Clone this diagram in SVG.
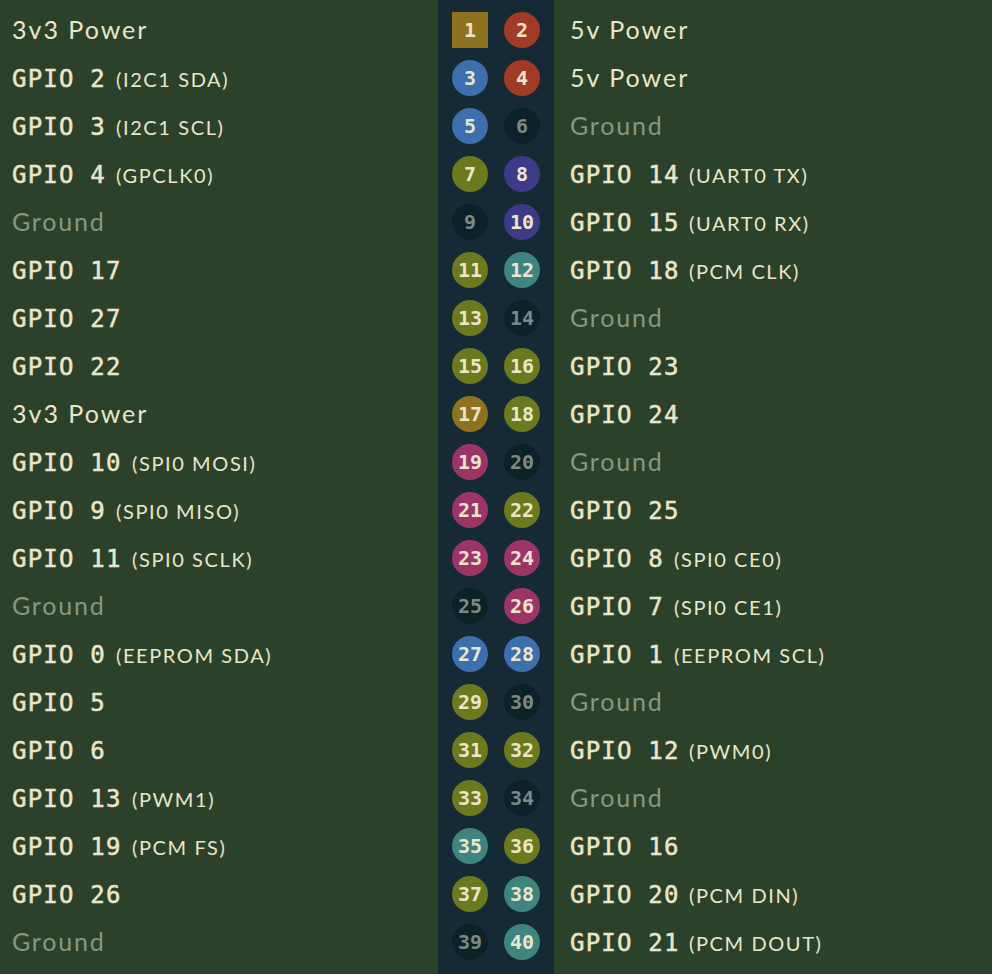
<svg xmlns="http://www.w3.org/2000/svg" width="992" height="974" viewBox="0 0 992 974">
<style>
.bg{fill:#2c412c}
.strip{fill:#152a35}
.n{font-family:"DejaVu Sans Mono",monospace;font-weight:bold;font-size:20px;fill:#ebe5c9;text-anchor:middle}
.gn{fill:#7b8a86}
.pw3{fill:#8e7220}.pw5{fill:#a23a28}.blu{fill:#3b6fae}.olv{fill:#6b7a1e}.pur{fill:#3d3a88}.tea{fill:#3f857f}.mag{fill:#9b3568}.gnd{fill:#0d2129}
.s{font-family:Lato,"Open Sans",sans-serif;font-size:25px;fill:#ebe5c9;letter-spacing:2px}
.g{font-family:Lato,"Open Sans",sans-serif;font-size:25px;fill:#8a977f;letter-spacing:1.8px}
.m{font-family:"DejaVu Sans Mono",monospace;font-size:24px;fill:#ebe5c9;stroke:#ebe5c9;stroke-width:0.5px;letter-spacing:1.2px}
.sub{font-family:Lato,"Open Sans",sans-serif;font-size:20px;fill:#ebe5c9;letter-spacing:1.6px}
</style>
<rect class="bg" x="0" y="0" width="992" height="974"/>
<rect class="strip" x="438" y="0" width="116" height="974"/>

<g id="pin1"><rect class="pw3" x="452" y="12" width="36" height="36"/><text class="n" x="470" y="37">1</text><text class="s" x="12" y="39">3v3 Power</text></g>
<g id="pin2"><circle class="pw5" cx="522" cy="30" r="18"/><text class="n" x="522" y="37">2</text><text class="s" x="570" y="39">5v Power</text></g>

<g id="pin3"><circle class="blu" cx="470" cy="78" r="18"/><text class="n" x="470" y="85">3</text><text class="m" x="12" y="87">GPIO 2</text><text class="sub" x="116" y="87">(I2C1 SDA)</text></g>
<g id="pin4"><circle class="pw5" cx="522" cy="78" r="18"/><text class="n" x="522" y="85">4</text><text class="s" x="570" y="87">5v Power</text></g>

<g id="pin5"><circle class="blu" cx="470" cy="126" r="18"/><text class="n" x="470" y="133">5</text><text class="m" x="12" y="135">GPIO 3</text><text class="sub" x="116" y="135">(I2C1 SCL)</text></g>
<g id="pin6"><circle class="gnd" cx="522" cy="126" r="18"/><text class="n gn" x="522" y="133">6</text><text class="g" x="570" y="135">Ground</text></g>

<g id="pin7"><circle class="olv" cx="470" cy="174" r="18"/><text class="n" x="470" y="181">7</text><text class="m" x="12" y="183">GPIO 4</text><text class="sub" x="116" y="183">(GPCLK0)</text></g>
<g id="pin8"><circle class="pur" cx="522" cy="174" r="18"/><text class="n" x="522" y="181">8</text><text class="m" x="570" y="183">GPIO 14</text><text class="sub" x="689" y="183">(UART0 TX)</text></g>

<g id="pin9"><circle class="gnd" cx="470" cy="222" r="18"/><text class="n gn" x="470" y="229">9</text><text class="g" x="12" y="231">Ground</text></g>
<g id="pin10"><circle class="pur" cx="522" cy="222" r="18"/><text class="n" x="522" y="229">10</text><text class="m" x="570" y="231">GPIO 15</text><text class="sub" x="689" y="231">(UART0 RX)</text></g>

<g id="pin11"><circle class="olv" cx="470" cy="270" r="18"/><text class="n" x="470" y="277">11</text><text class="m" x="12" y="279">GPIO 17</text></g>
<g id="pin12"><circle class="tea" cx="522" cy="270" r="18"/><text class="n" x="522" y="277">12</text><text class="m" x="570" y="279">GPIO 18</text><text class="sub" x="689" y="279">(PCM CLK)</text></g>

<g id="pin13"><circle class="olv" cx="470" cy="318" r="18"/><text class="n" x="470" y="325">13</text><text class="m" x="12" y="327">GPIO 27</text></g>
<g id="pin14"><circle class="gnd" cx="522" cy="318" r="18"/><text class="n gn" x="522" y="325">14</text><text class="g" x="570" y="327">Ground</text></g>

<g id="pin15"><circle class="olv" cx="470" cy="366" r="18"/><text class="n" x="470" y="373">15</text><text class="m" x="12" y="375">GPIO 22</text></g>
<g id="pin16"><circle class="olv" cx="522" cy="366" r="18"/><text class="n" x="522" y="373">16</text><text class="m" x="570" y="375">GPIO 23</text></g>

<g id="pin17"><circle class="pw3" cx="470" cy="414" r="18"/><text class="n" x="470" y="421">17</text><text class="s" x="12" y="423">3v3 Power</text></g>
<g id="pin18"><circle class="olv" cx="522" cy="414" r="18"/><text class="n" x="522" y="421">18</text><text class="m" x="570" y="423">GPIO 24</text></g>

<g id="pin19"><circle class="mag" cx="470" cy="462" r="18"/><text class="n" x="470" y="469">19</text><text class="m" x="12" y="471">GPIO 10</text><text class="sub" x="132" y="471">(SPI0 MOSI)</text></g>
<g id="pin20"><circle class="gnd" cx="522" cy="462" r="18"/><text class="n gn" x="522" y="469">20</text><text class="g" x="570" y="471">Ground</text></g>

<g id="pin21"><circle class="mag" cx="470" cy="510" r="18"/><text class="n" x="470" y="517">21</text><text class="m" x="12" y="519">GPIO 9</text><text class="sub" x="116" y="519">(SPI0 MISO)</text></g>
<g id="pin22"><circle class="olv" cx="522" cy="510" r="18"/><text class="n" x="522" y="517">22</text><text class="m" x="570" y="519">GPIO 25</text></g>

<g id="pin23"><circle class="mag" cx="470" cy="558" r="18"/><text class="n" x="470" y="565">23</text><text class="m" x="12" y="567">GPIO 11</text><text class="sub" x="132" y="567">(SPI0 SCLK)</text></g>
<g id="pin24"><circle class="mag" cx="522" cy="558" r="18"/><text class="n" x="522" y="565">24</text><text class="m" x="570" y="567">GPIO 8</text><text class="sub" x="674" y="567">(SPI0 CE0)</text></g>

<g id="pin25"><circle class="gnd" cx="470" cy="606" r="18"/><text class="n gn" x="470" y="613">25</text><text class="g" x="12" y="615">Ground</text></g>
<g id="pin26"><circle class="mag" cx="522" cy="606" r="18"/><text class="n" x="522" y="613">26</text><text class="m" x="570" y="615">GPIO 7</text><text class="sub" x="674" y="615">(SPI0 CE1)</text></g>

<g id="pin27"><circle class="blu" cx="470" cy="654" r="18"/><text class="n" x="470" y="661">27</text><text class="m" x="12" y="663">GPIO 0</text><text class="sub" x="116" y="663">(EEPROM SDA)</text></g>
<g id="pin28"><circle class="blu" cx="522" cy="654" r="18"/><text class="n" x="522" y="661">28</text><text class="m" x="570" y="663">GPIO 1</text><text class="sub" x="674" y="663">(EEPROM SCL)</text></g>

<g id="pin29"><circle class="olv" cx="470" cy="702" r="18"/><text class="n" x="470" y="709">29</text><text class="m" x="12" y="711">GPIO 5</text></g>
<g id="pin30"><circle class="gnd" cx="522" cy="702" r="18"/><text class="n gn" x="522" y="709">30</text><text class="g" x="570" y="711">Ground</text></g>

<g id="pin31"><circle class="olv" cx="470" cy="750" r="18"/><text class="n" x="470" y="757">31</text><text class="m" x="12" y="759">GPIO 6</text></g>
<g id="pin32"><circle class="olv" cx="522" cy="750" r="18"/><text class="n" x="522" y="757">32</text><text class="m" x="570" y="759">GPIO 12</text><text class="sub" x="689" y="759">(PWM0)</text></g>

<g id="pin33"><circle class="olv" cx="470" cy="798" r="18"/><text class="n" x="470" y="805">33</text><text class="m" x="12" y="807">GPIO 13</text><text class="sub" x="132" y="807">(PWM1)</text></g>
<g id="pin34"><circle class="gnd" cx="522" cy="798" r="18"/><text class="n gn" x="522" y="805">34</text><text class="g" x="570" y="807">Ground</text></g>

<g id="pin35"><circle class="tea" cx="470" cy="846" r="18"/><text class="n" x="470" y="853">35</text><text class="m" x="12" y="855">GPIO 19</text><text class="sub" x="132" y="855">(PCM FS)</text></g>
<g id="pin36"><circle class="olv" cx="522" cy="846" r="18"/><text class="n" x="522" y="853">36</text><text class="m" x="570" y="855">GPIO 16</text></g>

<g id="pin37"><circle class="olv" cx="470" cy="894" r="18"/><text class="n" x="470" y="901">37</text><text class="m" x="12" y="903">GPIO 26</text></g>
<g id="pin38"><circle class="tea" cx="522" cy="894" r="18"/><text class="n" x="522" y="901">38</text><text class="m" x="570" y="903">GPIO 20</text><text class="sub" x="689" y="903">(PCM DIN)</text></g>

<g id="pin39"><circle class="gnd" cx="470" cy="942" r="18"/><text class="n gn" x="470" y="949">39</text><text class="g" x="12" y="951">Ground</text></g>
<g id="pin40"><circle class="tea" cx="522" cy="942" r="18"/><text class="n" x="522" y="949">40</text><text class="m" x="570" y="951">GPIO 21</text><text class="sub" x="689" y="951">(PCM DOUT)</text></g>
</svg>
